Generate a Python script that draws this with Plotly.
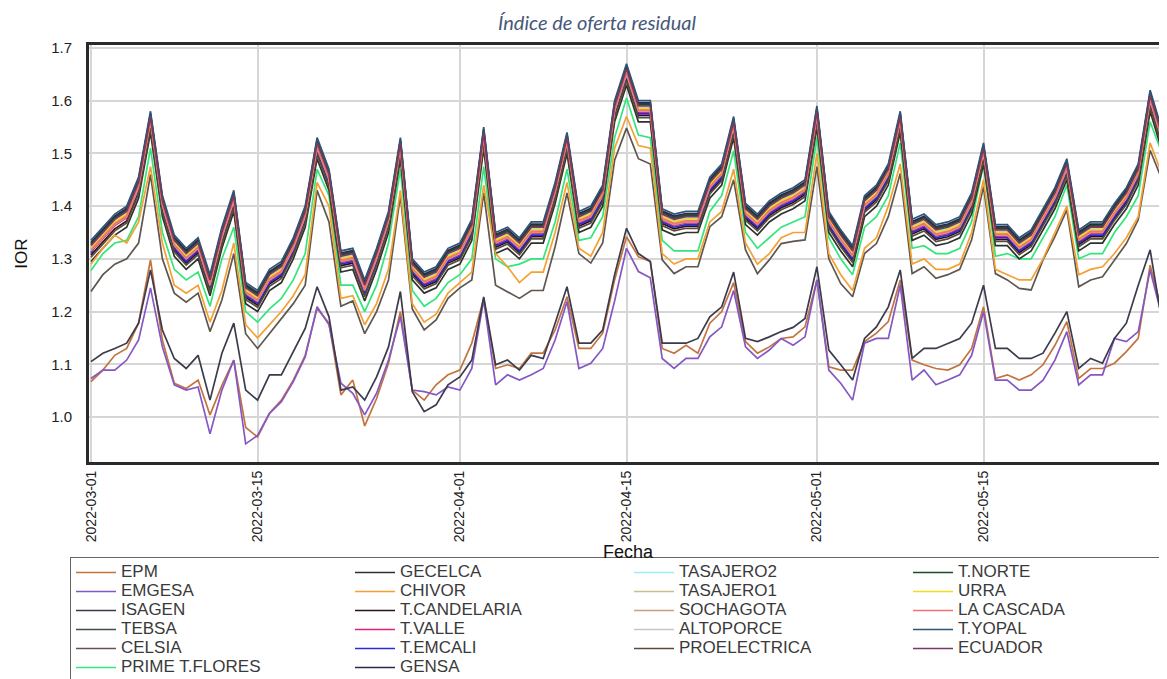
import pandas as pd
import plotly.graph_objects as go

# ---------------- data ----------------
dates = pd.date_range("2022-03-01", periods=92, freq="D").strftime("%Y-%m-%d").tolist()
tick_dates = ["2022-03-01", "2022-03-15", "2022-04-01", "2022-04-15", "2022-05-01", "2022-05-15"]
tick_labels = ["2022-03-01", "2022-03-15", "2022-04-01", "2022-04-15", "2022-05-01", "2022-05-15"]
y_ticks = [1.0, 1.1, 1.2, 1.3, 1.4, 1.5, 1.6, 1.7]

epm = [1.067,1.089,1.117,1.13,1.178,1.298,1.146,1.064,1.054,1.07,
       1.004,1.06,1.108,0.98,0.962,1.007,1.032,1.07,1.117,1.206,
       1.178,1.042,1.07,0.983,1.035,1.102,1.20,1.051,1.032,1.061,
       1.08,1.089,1.14,1.225,1.092,1.099,1.092,1.121,1.121,1.165,
       1.228,1.13,1.13,1.159,1.26,1.342,1.304,1.295,1.13,1.121,
       1.136,1.121,1.178,1.20,1.255,1.143,1.121,1.133,1.149,1.152,
       1.171,1.26,1.095,1.089,1.089,1.143,1.159,1.181,1.26,1.108,
       1.099,1.092,1.089,1.099,1.13,1.209,1.073,1.08,1.07,1.08,
       1.099,1.136,1.181,1.073,1.092,1.092,1.102,1.124,1.149,1.288,
       1.20,1.11]
emgesa = [1.073,1.089,1.089,1.108,1.146,1.245,1.133,1.061,1.051,1.057,
          0.968,1.051,1.108,0.949,0.965,1.007,1.029,1.067,1.114,1.209,
          1.175,1.064,1.045,1.004,1.045,1.108,1.19,1.051,1.048,1.042,
          1.057,1.051,1.092,1.222,1.061,1.08,1.07,1.08,1.092,1.146,
          1.219,1.092,1.102,1.13,1.22,1.32,1.276,1.264,1.111,1.092,
          1.111,1.111,1.152,1.171,1.24,1.133,1.111,1.127,1.149,1.136,
          1.152,1.26,1.089,1.064,1.032,1.14,1.149,1.149,1.25,1.07,
          1.089,1.061,1.07,1.08,1.117,1.20,1.07,1.07,1.051,1.051,
          1.07,1.108,1.162,1.061,1.08,1.08,1.149,1.143,1.162,1.279,
          1.19,1.10]
isagen = [1.105,1.121,1.13,1.14,1.178,1.279,1.165,1.111,1.092,1.117,
          1.032,1.121,1.178,1.051,1.032,1.08,1.08,1.124,1.168,1.247,
          1.19,1.051,1.057,1.032,1.076,1.133,1.238,1.048,1.01,1.023,
          1.061,1.076,1.108,1.228,1.099,1.108,1.089,1.117,1.111,1.178,
          1.247,1.14,1.14,1.165,1.27,1.358,1.31,1.295,1.14,1.14,
          1.14,1.149,1.19,1.209,1.275,1.149,1.143,1.152,1.162,1.17,
          1.187,1.285,1.127,1.099,1.07,1.149,1.171,1.209,1.279,1.111,
          1.13,1.13,1.14,1.149,1.178,1.25,1.13,1.13,1.111,1.111,
          1.121,1.159,1.20,1.092,1.111,1.102,1.149,1.178,1.25,1.317,
          1.18,1.12]
tebsa = [1.329,1.354,1.379,1.394,1.449,1.574,1.414,1.339,1.314,1.334,
         1.264,1.354,1.424,1.249,1.234,1.274,1.289,1.334,1.394,1.524,
         1.464,1.309,1.314,1.254,1.314,1.384,1.524,1.294,1.269,1.279,
         1.314,1.324,1.369,1.544,1.344,1.354,1.334,1.364,1.364,1.439,
         1.534,1.384,1.394,1.434,1.594,1.664,1.594,1.594,1.389,1.379,
         1.384,1.384,1.449,1.474,1.564,1.399,1.379,1.404,1.419,1.429,
         1.444,1.584,1.384,1.349,1.319,1.414,1.434,1.474,1.574,1.369,
         1.379,1.359,1.364,1.374,1.419,1.514,1.359,1.359,1.334,1.349,
         1.389,1.429,1.484,1.349,1.364,1.364,1.399,1.429,1.474,1.614,
         1.539,1.414]
celsia = [1.238,1.27,1.29,1.30,1.33,1.46,1.30,1.235,1.218,1.235,
          1.162,1.222,1.31,1.158,1.13,1.158,1.185,1.215,1.25,1.43,
          1.37,1.21,1.22,1.158,1.20,1.26,1.42,1.205,1.165,1.184,
          1.225,1.245,1.26,1.425,1.25,1.238,1.225,1.24,1.24,1.323,
          1.425,1.31,1.292,1.33,1.487,1.548,1.49,1.48,1.298,1.272,
          1.285,1.285,1.361,1.38,1.45,1.317,1.272,1.298,1.329,1.333,
          1.336,1.475,1.30,1.253,1.228,1.31,1.329,1.38,1.462,1.272,
          1.285,1.263,1.27,1.28,1.336,1.437,1.272,1.26,1.244,1.241,
          1.298,1.342,1.393,1.247,1.26,1.266,1.298,1.329,1.374,1.506,
          1.45,1.33]
prime_flores = [1.278,1.31,1.33,1.335,1.38,1.51,1.35,1.28,1.26,1.275,
                1.21,1.30,1.36,1.20,1.18,1.205,1.225,1.26,1.31,1.47,
                1.42,1.25,1.25,1.20,1.25,1.33,1.47,1.24,1.21,1.225,
                1.255,1.27,1.30,1.475,1.30,1.285,1.29,1.30,1.30,1.37,
                1.47,1.335,1.34,1.38,1.53,1.605,1.535,1.53,1.335,1.315,
                1.315,1.315,1.39,1.42,1.505,1.35,1.32,1.34,1.36,1.37,
                1.38,1.53,1.34,1.30,1.27,1.36,1.38,1.42,1.52,1.32,
                1.325,1.31,1.31,1.32,1.37,1.48,1.305,1.31,1.30,1.30,
                1.34,1.38,1.44,1.30,1.31,1.31,1.35,1.38,1.42,1.56,
                1.50,1.38]
gecelca = [1.295,1.320,1.345,1.360,1.415,1.540,1.380,1.305,1.280,1.300,
           1.230,1.320,1.390,1.215,1.200,1.240,1.255,1.300,1.360,1.490,
           1.430,1.275,1.280,1.220,1.280,1.350,1.490,1.260,1.235,1.245,
           1.280,1.290,1.335,1.510,1.310,1.320,1.300,1.330,1.330,1.405,
           1.500,1.350,1.360,1.400,1.560,1.630,1.560,1.560,1.355,1.345,
           1.350,1.350,1.415,1.440,1.530,1.365,1.345,1.370,1.385,1.395,
           1.410,1.550,1.350,1.315,1.285,1.380,1.400,1.440,1.540,1.335,
           1.345,1.325,1.330,1.340,1.385,1.480,1.325,1.325,1.300,1.315,
           1.355,1.395,1.450,1.315,1.330,1.330,1.365,1.395,1.440,1.580,
           1.505,1.380]
chivor = [1.29,1.32,1.345,1.33,1.37,1.475,1.33,1.25,1.235,1.25,
          1.18,1.24,1.33,1.175,1.15,1.175,1.20,1.23,1.27,1.445,
          1.40,1.225,1.23,1.175,1.215,1.28,1.43,1.215,1.18,1.195,
          1.235,1.255,1.275,1.44,1.31,1.285,1.255,1.275,1.275,1.35,
          1.445,1.32,1.305,1.35,1.51,1.57,1.515,1.51,1.31,1.29,
          1.30,1.30,1.37,1.39,1.47,1.33,1.29,1.31,1.34,1.35,
          1.35,1.50,1.31,1.27,1.24,1.32,1.34,1.40,1.48,1.29,
          1.30,1.28,1.28,1.29,1.35,1.45,1.28,1.27,1.26,1.26,
          1.30,1.35,1.40,1.27,1.28,1.285,1.31,1.34,1.38,1.52,
          1.46,1.35]
t_candelaria = [1.307,1.332,1.357,1.372,1.427,1.552,1.392,1.317,1.292,1.312,
                1.242,1.332,1.402,1.227,1.212,1.252,1.267,1.312,1.372,1.502,
                1.442,1.287,1.292,1.232,1.292,1.362,1.502,1.272,1.247,1.257,
                1.292,1.302,1.347,1.522,1.322,1.332,1.312,1.342,1.342,1.417,
                1.512,1.362,1.372,1.412,1.572,1.642,1.572,1.572,1.367,1.357,
                1.362,1.362,1.427,1.452,1.542,1.377,1.357,1.382,1.397,1.407,
                1.422,1.562,1.362,1.327,1.297,1.392,1.412,1.452,1.552,1.347,
                1.357,1.337,1.342,1.352,1.397,1.492,1.337,1.337,1.312,1.327,
                1.367,1.407,1.462,1.327,1.342,1.342,1.377,1.407,1.452,1.592,
                1.517,1.392]
t_valle = [1.313,1.338,1.363,1.378,1.433,1.558,1.398,1.323,1.298,1.318,
           1.248,1.338,1.408,1.233,1.218,1.258,1.273,1.318,1.378,1.508,
           1.448,1.293,1.298,1.238,1.298,1.368,1.508,1.278,1.253,1.263,
           1.298,1.308,1.353,1.528,1.328,1.338,1.318,1.348,1.348,1.423,
           1.518,1.368,1.378,1.418,1.578,1.648,1.578,1.578,1.373,1.363,
           1.368,1.368,1.433,1.458,1.548,1.383,1.363,1.388,1.403,1.413,
           1.428,1.568,1.368,1.333,1.303,1.398,1.418,1.458,1.558,1.353,
           1.363,1.343,1.348,1.358,1.403,1.498,1.343,1.343,1.318,1.333,
           1.373,1.413,1.468,1.333,1.348,1.348,1.383,1.413,1.458,1.598,
           1.523,1.398]
t_emcali = [1.310,1.355,1.375,1.385,1.430,1.555,1.395,1.320,1.295,1.315,
            1.245,1.335,1.405,1.230,1.215,1.255,1.270,1.315,1.375,1.505,
            1.445,1.290,1.295,1.235,1.295,1.365,1.505,1.275,1.250,1.260,
            1.295,1.305,1.350,1.525,1.325,1.335,1.315,1.345,1.345,1.420,
            1.515,1.365,1.375,1.415,1.575,1.645,1.575,1.575,1.370,1.360,
            1.365,1.365,1.430,1.455,1.545,1.380,1.360,1.385,1.400,1.410,
            1.425,1.565,1.365,1.330,1.300,1.395,1.415,1.455,1.555,1.350,
            1.360,1.340,1.345,1.355,1.400,1.495,1.340,1.340,1.315,1.330,
            1.370,1.410,1.465,1.330,1.345,1.345,1.380,1.410,1.455,1.595,
            1.520,1.395]
gensa = [1.331,1.356,1.381,1.396,1.451,1.576,1.416,1.341,1.316,1.336,
         1.266,1.356,1.426,1.251,1.236,1.276,1.291,1.336,1.396,1.526,
         1.466,1.311,1.316,1.256,1.316,1.386,1.526,1.296,1.271,1.281,
         1.316,1.326,1.371,1.546,1.346,1.356,1.336,1.366,1.366,1.441,
         1.536,1.386,1.396,1.436,1.596,1.666,1.596,1.596,1.391,1.381,
         1.386,1.386,1.451,1.476,1.566,1.401,1.381,1.406,1.421,1.431,
         1.446,1.586,1.386,1.351,1.321,1.416,1.436,1.476,1.576,1.371,
         1.381,1.361,1.366,1.376,1.421,1.516,1.361,1.361,1.336,1.351,
         1.391,1.431,1.486,1.351,1.366,1.366,1.401,1.431,1.476,1.616,
         1.541,1.416]
tasajero2 = [1.323,1.348,1.373,1.388,1.443,1.568,1.408,1.333,1.308,1.328,
             1.258,1.348,1.418,1.243,1.228,1.268,1.283,1.328,1.388,1.518,
             1.458,1.303,1.308,1.248,1.308,1.378,1.518,1.288,1.263,1.273,
             1.308,1.318,1.363,1.538,1.338,1.348,1.328,1.358,1.358,1.433,
             1.528,1.378,1.388,1.428,1.588,1.658,1.588,1.588,1.383,1.373,
             1.378,1.378,1.443,1.468,1.558,1.393,1.373,1.398,1.413,1.423,
             1.438,1.578,1.378,1.343,1.313,1.408,1.428,1.468,1.568,1.363,
             1.373,1.353,1.358,1.368,1.413,1.508,1.353,1.353,1.328,1.343,
             1.383,1.423,1.478,1.343,1.358,1.358,1.393,1.423,1.468,1.608,
             1.533,1.408]
tasajero1 = [1.319,1.344,1.369,1.384,1.439,1.564,1.404,1.329,1.304,1.324,
             1.254,1.344,1.414,1.239,1.224,1.264,1.279,1.324,1.384,1.514,
             1.454,1.299,1.304,1.244,1.304,1.374,1.514,1.284,1.259,1.269,
             1.304,1.314,1.359,1.534,1.334,1.344,1.324,1.354,1.354,1.429,
             1.524,1.374,1.384,1.424,1.584,1.654,1.584,1.584,1.379,1.369,
             1.374,1.374,1.439,1.464,1.554,1.389,1.369,1.394,1.409,1.419,
             1.434,1.574,1.374,1.339,1.309,1.404,1.424,1.464,1.564,1.359,
             1.369,1.349,1.354,1.364,1.409,1.504,1.349,1.349,1.324,1.339,
             1.379,1.419,1.474,1.339,1.354,1.354,1.389,1.419,1.464,1.604,
             1.529,1.404]
sochagota = [1.315,1.340,1.365,1.380,1.435,1.560,1.400,1.325,1.300,1.320,
             1.250,1.340,1.410,1.235,1.220,1.260,1.275,1.320,1.380,1.510,
             1.450,1.295,1.300,1.240,1.300,1.370,1.510,1.280,1.255,1.265,
             1.300,1.310,1.355,1.530,1.330,1.340,1.320,1.350,1.350,1.425,
             1.520,1.370,1.380,1.420,1.580,1.650,1.580,1.580,1.375,1.365,
             1.370,1.370,1.435,1.460,1.550,1.385,1.365,1.390,1.405,1.415,
             1.430,1.570,1.370,1.335,1.305,1.400,1.420,1.460,1.560,1.355,
             1.365,1.345,1.350,1.360,1.405,1.500,1.345,1.345,1.320,1.335,
             1.375,1.415,1.470,1.335,1.350,1.350,1.385,1.415,1.460,1.600,
             1.525,1.400]
altoporce = [1.321,1.346,1.371,1.386,1.441,1.566,1.406,1.331,1.306,1.326,
             1.256,1.346,1.416,1.241,1.226,1.266,1.281,1.326,1.386,1.516,
             1.456,1.301,1.306,1.246,1.306,1.376,1.516,1.286,1.261,1.271,
             1.306,1.316,1.361,1.536,1.336,1.346,1.326,1.356,1.356,1.431,
             1.526,1.376,1.386,1.426,1.586,1.656,1.586,1.586,1.381,1.371,
             1.376,1.376,1.441,1.466,1.556,1.391,1.371,1.396,1.411,1.421,
             1.436,1.576,1.376,1.341,1.311,1.406,1.426,1.466,1.566,1.361,
             1.371,1.351,1.356,1.366,1.411,1.506,1.351,1.351,1.326,1.341,
             1.381,1.421,1.476,1.341,1.356,1.356,1.391,1.421,1.466,1.606,
             1.531,1.406]
proelectrica = [1.303,1.328,1.353,1.368,1.423,1.548,1.388,1.313,1.288,1.308,
                1.238,1.328,1.398,1.223,1.208,1.248,1.263,1.308,1.368,1.498,
                1.438,1.283,1.288,1.228,1.288,1.358,1.498,1.268,1.243,1.253,
                1.288,1.298,1.343,1.518,1.318,1.328,1.308,1.338,1.338,1.413,
                1.508,1.358,1.368,1.408,1.568,1.638,1.568,1.568,1.363,1.353,
                1.358,1.358,1.423,1.448,1.538,1.373,1.353,1.378,1.393,1.403,
                1.418,1.558,1.358,1.323,1.293,1.388,1.408,1.448,1.548,1.343,
                1.353,1.333,1.338,1.348,1.393,1.488,1.333,1.333,1.308,1.323,
                1.363,1.403,1.458,1.323,1.338,1.338,1.373,1.403,1.448,1.588,
                1.513,1.388]
t_norte = [1.327,1.352,1.377,1.392,1.447,1.572,1.412,1.337,1.312,1.332,
           1.262,1.352,1.422,1.247,1.232,1.272,1.287,1.332,1.392,1.522,
           1.462,1.307,1.312,1.252,1.312,1.382,1.522,1.292,1.267,1.277,
           1.312,1.322,1.367,1.542,1.342,1.352,1.332,1.362,1.362,1.437,
           1.532,1.382,1.392,1.432,1.592,1.662,1.592,1.592,1.387,1.377,
           1.382,1.382,1.447,1.472,1.562,1.397,1.377,1.402,1.417,1.427,
           1.442,1.582,1.382,1.347,1.317,1.412,1.432,1.472,1.572,1.367,
           1.377,1.357,1.362,1.372,1.417,1.512,1.357,1.357,1.332,1.347,
           1.387,1.427,1.482,1.347,1.362,1.362,1.397,1.427,1.472,1.612,
           1.537,1.412]
urra = [1.320,1.345,1.370,1.385,1.440,1.565,1.405,1.330,1.305,1.325,
        1.255,1.345,1.415,1.240,1.225,1.265,1.280,1.325,1.385,1.515,
        1.455,1.300,1.305,1.245,1.305,1.375,1.515,1.285,1.260,1.270,
        1.305,1.315,1.360,1.535,1.335,1.345,1.325,1.355,1.355,1.430,
        1.525,1.375,1.385,1.425,1.585,1.655,1.585,1.585,1.380,1.370,
        1.375,1.375,1.440,1.465,1.555,1.390,1.370,1.395,1.410,1.420,
        1.435,1.575,1.375,1.340,1.310,1.405,1.425,1.465,1.565,1.360,
        1.370,1.350,1.355,1.365,1.410,1.505,1.350,1.350,1.325,1.340,
        1.380,1.420,1.475,1.340,1.355,1.355,1.390,1.420,1.465,1.605,
        1.530,1.405]
la_cascada = [1.317,1.342,1.367,1.382,1.437,1.562,1.402,1.327,1.302,1.322,
              1.252,1.342,1.412,1.237,1.222,1.262,1.277,1.322,1.382,1.512,
              1.452,1.297,1.302,1.242,1.302,1.372,1.512,1.282,1.257,1.267,
              1.302,1.312,1.357,1.532,1.332,1.342,1.322,1.352,1.352,1.427,
              1.522,1.372,1.382,1.422,1.582,1.652,1.582,1.582,1.377,1.367,
              1.372,1.372,1.437,1.462,1.552,1.387,1.367,1.392,1.407,1.417,
              1.432,1.572,1.372,1.337,1.307,1.402,1.422,1.462,1.562,1.357,
              1.367,1.347,1.352,1.362,1.407,1.502,1.347,1.347,1.322,1.337,
              1.377,1.417,1.472,1.337,1.352,1.352,1.387,1.417,1.462,1.602,
              1.527,1.402]
t_yopal = [1.335,1.360,1.385,1.400,1.455,1.580,1.420,1.345,1.320,1.340,
           1.270,1.360,1.430,1.255,1.240,1.280,1.295,1.340,1.400,1.530,
           1.470,1.315,1.320,1.260,1.320,1.390,1.530,1.300,1.275,1.285,
           1.320,1.330,1.375,1.550,1.350,1.360,1.340,1.370,1.370,1.445,
           1.540,1.390,1.400,1.440,1.600,1.670,1.600,1.600,1.395,1.385,
           1.390,1.390,1.455,1.480,1.570,1.405,1.385,1.410,1.425,1.435,
           1.450,1.590,1.390,1.355,1.325,1.420,1.440,1.480,1.580,1.375,
           1.385,1.365,1.370,1.380,1.425,1.520,1.365,1.365,1.340,1.355,
           1.395,1.435,1.490,1.355,1.370,1.370,1.405,1.435,1.480,1.620,
           1.545,1.420]
ecuador = [1.325,1.350,1.375,1.390,1.445,1.570,1.410,1.335,1.310,1.330,
           1.260,1.350,1.420,1.245,1.230,1.270,1.285,1.330,1.390,1.520,
           1.460,1.305,1.310,1.250,1.310,1.380,1.520,1.290,1.265,1.275,
           1.310,1.320,1.365,1.540,1.340,1.350,1.330,1.360,1.360,1.435,
           1.530,1.380,1.390,1.430,1.590,1.660,1.590,1.590,1.385,1.375,
           1.380,1.380,1.445,1.470,1.560,1.395,1.375,1.400,1.415,1.425,
           1.440,1.580,1.380,1.345,1.315,1.410,1.430,1.470,1.570,1.365,
           1.375,1.355,1.360,1.370,1.415,1.510,1.355,1.355,1.330,1.345,
           1.385,1.425,1.480,1.345,1.360,1.360,1.395,1.425,1.470,1.610,
           1.535,1.410]

# legend columns (as shown in the reference, column by column)
legend_columns = [
    ["EPM", "EMGESA", "ISAGEN", "TEBSA", "CELSIA", "PRIME T.FLORES"],
    ["GECELCA", "CHIVOR", "T.CANDELARIA", "T.VALLE", "T.EMCALI", "GENSA"],
    ["TASAJERO2", "TASAJERO1", "SOCHAGOTA", "ALTOPORCE", "PROELECTRICA"],
    ["T.NORTE", "URRA", "LA CASCADA", "T.YOPAL", "ECUADOR"],
]

series = {
    "EPM": epm, "EMGESA": emgesa, "ISAGEN": isagen, "TEBSA": tebsa,
    "CELSIA": celsia, "PRIME T.FLORES": prime_flores, "GECELCA": gecelca,
    "CHIVOR": chivor, "T.CANDELARIA": t_candelaria, "T.VALLE": t_valle,
    "T.EMCALI": t_emcali, "GENSA": gensa, "TASAJERO2": tasajero2,
    "TASAJERO1": tasajero1, "SOCHAGOTA": sochagota, "ALTOPORCE": altoporce,
    "PROELECTRICA": proelectrica, "T.NORTE": t_norte, "URRA": urra,
    "LA CASCADA": la_cascada, "T.YOPAL": t_yopal, "ECUADOR": ecuador,
}

colors = {
    "EPM": "#c4733f", "EMGESA": "#8457c4", "ISAGEN": "#3b3b4c", "TEBSA": "#405048",
    "CELSIA": "#5f5650", "PRIME T.FLORES": "#33e67a", "GECELCA": "#2c332c",
    "CHIVOR": "#f5a032", "T.CANDELARIA": "#2b1212", "T.VALLE": "#e41f7d",
    "T.EMCALI": "#2a2ad6", "GENSA": "#2a2a4e", "TASAJERO2": "#9eeef5",
    "TASAJERO1": "#c8c08e", "SOCHAGOTA": "#c8a07e", "ALTOPORCE": "#c6c6c6",
    "PROELECTRICA": "#5b4a3b", "T.NORTE": "#1e4a2a", "URRA": "#f3dc1c",
    "LA CASCADA": "#f07272", "T.YOPAL": "#2c5676", "ECUADOR": "#7a3a5c",
}

# ---------------- figure ----------------
# the page puts the plot 8px from the top-left corner, so the figure is 8px smaller
OFF = 8
W, H = 1167 - OFF, 679 - OFF
L, R, T, B = 89 - OFF, 0, 45 - OFF, 217
plot_w, plot_h = W - L - R, H - T - B

ENTRY_W = 224
LAST_COL_W = 197

fig = go.Figure()
order = [n for col in legend_columns for n in col]
for name in order:
    ci = next(i for i, col in enumerate(legend_columns) if name in col)
    ri = legend_columns[ci].index(name)
    fig.add_trace(go.Scatter(
        x=dates, y=series[name], mode="lines",
        name='<span style="font-size:17px">' + name + "</span>",
        line=dict(color=colors[name], width=1.7),
        legendrank=ri * 4 + ci + 1,
        legendwidth=LAST_COL_W if ci == 3 else ENTRY_W,
        hovertemplate=name + ": %{y:.3f}<extra></extra>",
    ))

legend_left = 70 - OFF
legend_top = 557 - OFF
legend_right = legend_left + 3 * (50 + ENTRY_W + 5) + 50 + LAST_COL_W + 5 + 2


def px_to_paper_x(px):
    return (px - L) / plot_w


def px_to_paper_y(py):
    return (H - B - py) / plot_h


# drop shadow on the right of the legend box (the legend is drawn over it)
fig.add_shape(
    type="rect", xref="paper", yref="paper", layer="above",
    x0=px_to_paper_x(legend_left + 4), x1=px_to_paper_x(legend_right + 4),
    y0=px_to_paper_y(legend_top + 4), y1=px_to_paper_y(H + 4),
    fillcolor="#9c9c9c", line=dict(width=0),
)

fig.update_layout(
    width=W, height=H, autosize=False,
    margin=dict(l=L, r=R, t=T, b=B, autoexpand=False),
    paper_bgcolor="white", plot_bgcolor="white",
    font=dict(family="Liberation Sans, Arial, sans-serif", color="#222"),
    title=dict(
        text="Índice de oferta residual",
        x=(597 - OFF) / W, xanchor="center", xref="container",
        y=1 - 15 / H, yanchor="middle", yref="container",
        font=dict(family="Lato, Open Sans, sans-serif", size=20, color="#46587a", style="italic"),
    ),
    xaxis=dict(
        range=["2022-02-28 20:00", "2022-05-30 10:00"],
        tickvals=tick_dates, ticktext=tick_labels, tickangle=-90,
        tickfont=dict(size=14, color="#222"),
        showgrid=True, gridcolor="#d6d6d6", gridwidth=2,
        showline=True, linecolor="#2a2a2a", linewidth=3, mirror=True,
        ticks="", zeroline=False,
        title=dict(text="Fecha", font=dict(size=18, color="#111"), standoff=2),
    ),
    yaxis=dict(
        range=[0.9146, 1.7057],
        tickvals=y_ticks, tickformat=".1f",
        tickfont=dict(size=15, color="#222"),
        showgrid=True, gridcolor="#d6d6d6", gridwidth=2,
        showline=True, linecolor="#2a2a2a", linewidth=3,
        ticks="", zeroline=False, ticklabelstandoff=11,
        title=dict(text="IOR", font=dict(size=17, color="#111"), standoff=20),
    ),
    legend=dict(
        orientation="h",
        x=px_to_paper_x(legend_left), xanchor="left",
        y=px_to_paper_y(legend_top), yanchor="top",
        entrywidthmode="pixels", itemwidth=40,
        font=dict(family="Liberation Sans, Arial, sans-serif", size=12, color="#3a3a3a"),
        bordercolor="#666", borderwidth=1, bgcolor="white",
        traceorder="normal",
    ),
    showlegend=True,
)

fig.write_html("out.html")
